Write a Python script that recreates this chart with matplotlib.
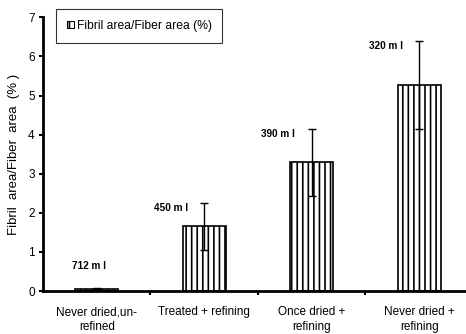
import matplotlib
matplotlib.use("Agg")
import matplotlib.pyplot as plt
from matplotlib.patches import Patch

categories = ["Never dried,un-\nrefined", "Treated + refining", "Once dried +\nrefining", "Never dried +\nrefining"]
values = [0.06, 1.66, 3.29, 5.27]
errors = [0.02, 0.60, 0.85, 1.12]
freeness = ["712 ml", "450 ml", "390 ml", "320 ml"]
yticks = [0, 1, 2, 3, 4, 5, 6, 7]

plt.rcParams['font.family'] = ['Liberation Sans', 'DejaVu Sans']
plt.rcParams['hatch.linewidth'] = 1.2

fig = plt.figure(figsize=(4.66, 3.34), dpi=100)
ax = fig.add_axes([43/466, 1 - 291/334, 1 - 43/466, (291 - 17.3)/334])

x = list(range(len(categories)))
ax.bar(x, values, width=0.4, color='white', edgecolor='black', linewidth=1.2, hatch='|||', zorder=2)
ax.errorbar(x, values, yerr=errors, fmt='none', ecolor='black', elinewidth=1.0, capsize=3, capthick=1.0, zorder=3)

for i, (v, e, lab) in enumerate(zip(values, errors, freeness)):
    if i == 0:
        ty, tx = 0.64, i - 0.07
    else:
        ty, tx = v + e - 0.13, i - 0.31
    ax.text(tx, ty, lab.replace("ml", "m l"), ha='center', va='center', fontsize=7.2, fontweight='bold')

ax.set_xlim(-0.5, 3.435)
ax.set_ylim(0, 7)
ax.set_yticks(yticks)
ax.set_xticks([0.5, 1.5, 2.5])
ax.set_xticklabels([])
ax.set_xticks(x, minor=True)
ax.set_xticklabels(categories, minor=True, fontsize=8.5, linespacing=1.25)
ax.tick_params(axis='x', which='minor', length=0, pad=11)
ax.tick_params(axis='x', which='major', length=3, width=1.5, direction='out')
ax.tick_params(axis='y', length=3, width=1.5, direction='out', labelsize=8.5, pad=3)
for s in ['top', 'right']:
    ax.spines[s].set_visible(False)
for s in ['left', 'bottom']:
    ax.spines[s].set_linewidth(2)

ax.set_ylabel("Fibril  area/Fiber  area  (% )", fontsize=9.5, labelpad=6)

handle = Patch(facecolor='white', edgecolor='black', hatch='|||', linewidth=0.8)
leg = ax.legend([handle], ["Fibril area/Fiber area (%)"], loc='upper left',
                bbox_to_anchor=(13/423, 1 + 8.3/273.7), fontsize=8.7,
                frameon=True, fancybox=False, edgecolor='black', handlelength=0.6,
                handleheight=0.6, handletextpad=0.2, borderpad=0.9, borderaxespad=0)
leg.get_frame().set_linewidth(0.8)

fig.savefig("out.png", dpi=100)
